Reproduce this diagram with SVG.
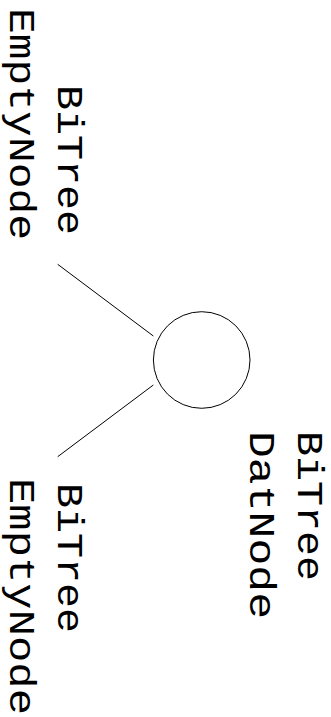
<svg xmlns="http://www.w3.org/2000/svg" width="331" height="717" viewBox="0 0 331 717">
<style>
.t{font-family:"Liberation Mono","DejaVu Sans Mono",monospace;font-size:36px;fill:#000}
.s{fill:none;stroke:#000;stroke-width:1}
</style>
<rect width="331" height="717" fill="#fff"/>
<g id="connectors">
<line class="s" x1="57.7" y1="264.3" x2="153.3" y2="336"/>
<line class="s" x1="153.3" y1="385" x2="57.7" y2="456.7"/>
</g>
<g id="root">
<circle class="s" cx="201.7" cy="360" r="48.3"/>
<text class="t" transform="translate(298,431) rotate(90)" textLength="150" lengthAdjust="spacingAndGlyphs">BiTree</text>
<text class="t" transform="translate(250,431) rotate(90)" textLength="188" lengthAdjust="spacingAndGlyphs">DatNode</text>
</g>
<g id="left-empty">
<text class="t" transform="translate(58,85) rotate(90)" textLength="150" lengthAdjust="spacingAndGlyphs">BiTree</text>
<text class="t" transform="translate(10,8) rotate(90)" textLength="232" lengthAdjust="spacingAndGlyphs">EmptyNode</text>
</g>
<g id="right-empty">
<text class="t" transform="translate(58,483) rotate(90)" textLength="150" lengthAdjust="spacingAndGlyphs">BiTree</text>
<text class="t" transform="translate(10,478) rotate(90)" textLength="237" lengthAdjust="spacingAndGlyphs">EmptyNode</text>
</g>
</svg>
